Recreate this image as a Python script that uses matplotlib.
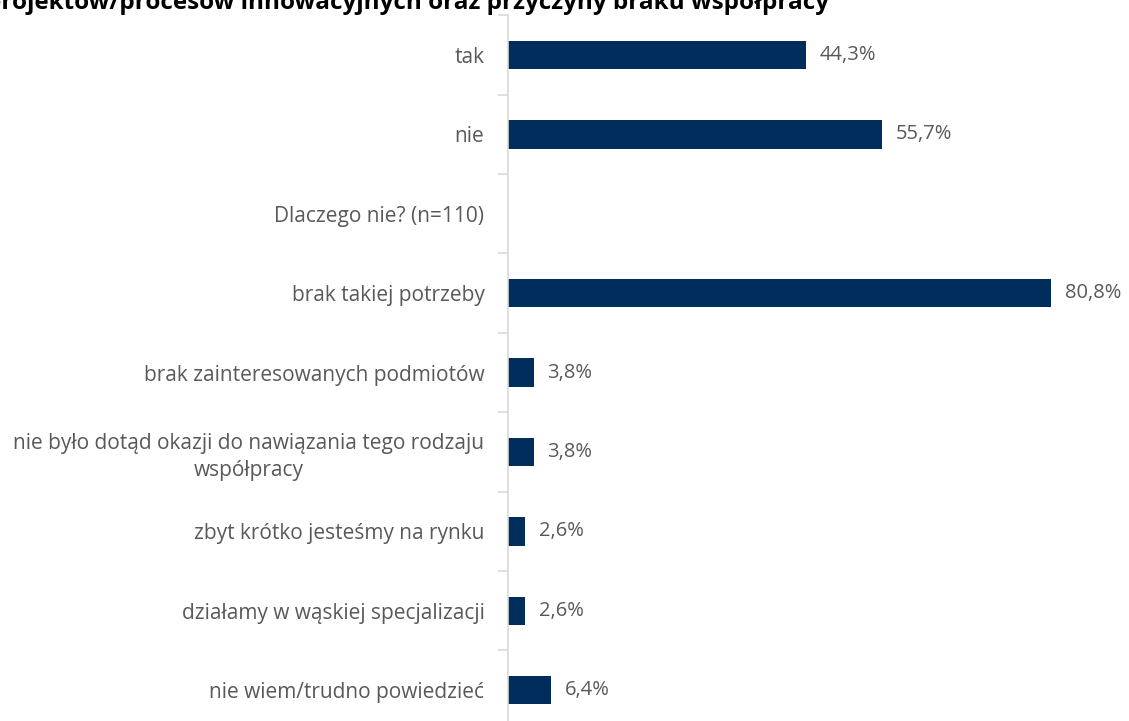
import matplotlib.pyplot as plt

categories = [
    "tak",
    "nie",
    "Dlaczego nie? (n=110)",
    "brak takiej potrzeby",
    "brak zainteresowanych podmiotów",
    "nie było dotąd okazji do nawiązania tego rodzaju\nwspółpracy",
    "zbyt krótko jesteśmy na rynku",
    "działamy w wąskiej specjalizacji",
    "nie wiem/trudno powiedzieć",
]
values = [44.3, 55.7, None, 80.8, 3.8, 3.8, 2.6, 2.6, 6.4]
title = "projektów/procesów innowacyjnych oraz przyczyny braku współpracy"

plt.rcParams["font.family"] = ["Open Sans", "DejaVu Sans"]

bar_color = "#002d5b"
text_color = "#595959"
axis_color = "#d9d9d9"

fig = plt.figure(figsize=(11.29, 7.21), dpi=100)
ax = fig.add_axes([508 / 1129, 1 - 729.9 / 721, 605 / 1129, 714.6 / 721])

pos = list(range(len(categories)))
for y, v in zip(pos, values):
    if v is None:
        continue
    ax.barh(y, v, height=0.36, color=bar_color)
    ax.text(v + 2.0, y, f"{v:.1f}%".replace(".", ","), va="center", ha="left",
            fontsize=14.5, color=text_color)

ax.set_xlim(0, 90)
ax.set_ylim(len(categories) - 0.5, -0.5)

for s in ["top", "right", "bottom"]:
    ax.spines[s].set_visible(False)
ax.spines["left"].set_color(axis_color)
ax.spines["left"].set_linewidth(1.2)
ax.set_xticks([])

# tick marks between categories, labels at category centres
ax.set_yticks([p - 0.5 for p in pos] + [len(pos) - 0.5])
ax.set_yticklabels([])
ax.tick_params(axis="y", which="major", length=7, color=axis_color, width=1.2)
ax.set_yticks(pos, minor=True)
ax.set_yticklabels(categories, minor=True, fontsize=15, color=text_color,
                   multialignment="center", linespacing=1.35)
ax.tick_params(axis="y", which="minor", length=0, pad=17)

fig.text(-14 / 1129, 1 - 9 / 721, title, fontsize=17.5, fontweight="bold",
         color="black", ha="left", va="baseline")

fig.savefig("out.png", dpi=100)
